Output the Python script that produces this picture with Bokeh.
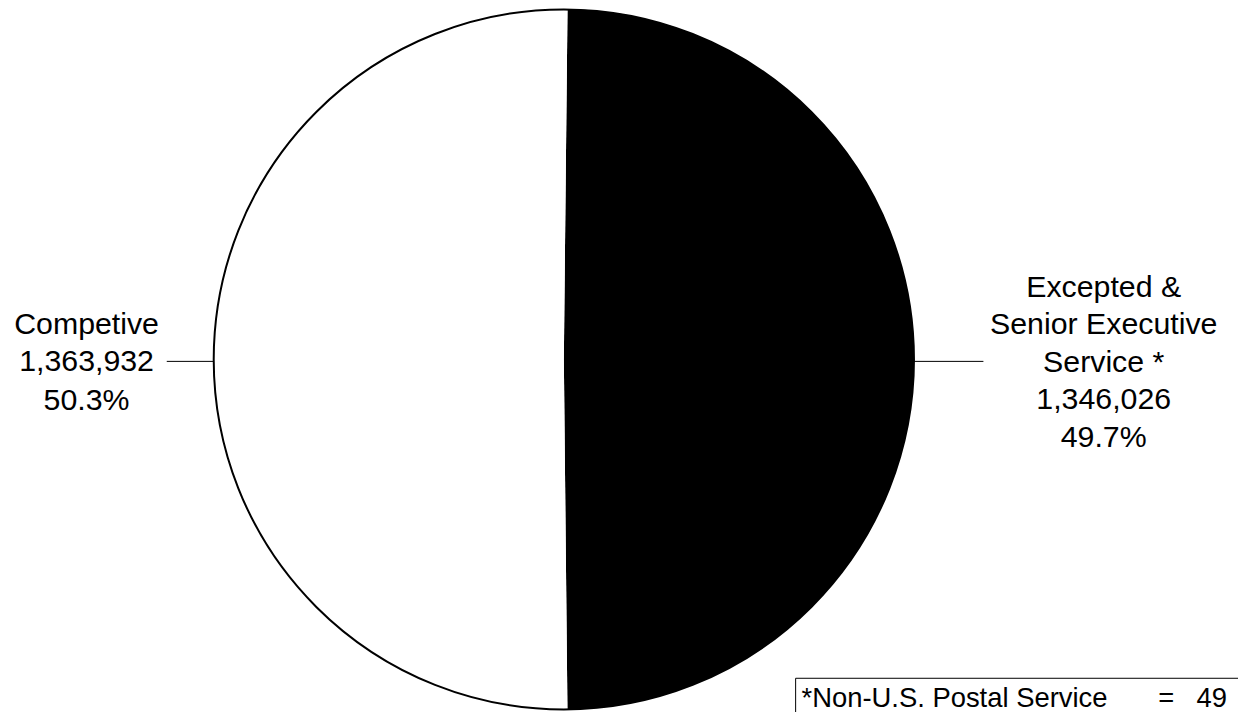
import math
from bokeh.plotting import figure
from bokeh.models import Range1d
from bokeh.core.properties import value
from bokeh.embed import file_html
from bokeh.resources import INLINE

# ---- data ----
categories = ["Excepted &\nSenior Executive\nService *", "Competive"]
counts = [1346026, 1363932]
percents = ["49.7%", "50.3%"]
colors = ["#000000", "#ffffff"]
footnote_label = "*Non-U.S. Postal Service"
footnote_eq = "="
footnote_value = "49"

W, H = 1238, 712
REF_W, REF_H = 1254, 728
s = H / REF_H  # uniform scale from reference pixels to figure pixels
FONT = value("Liberation Sans")
FS = f"{31 * s:.1f}px"
FS_NOTE = f"{28 * s:.1f}px"

p = figure(width=W, height=H, output_backend="svg", toolbar_location=None,
           x_range=Range1d(0, W / s), y_range=Range1d(0, REF_H),
           min_border=0)
p.axis.visible = False
p.grid.visible = False
p.outline_line_color = None
p.background_fill_color = "white"
p.border_fill_color = "white"

def sy(y):  # reference screen y -> data y
    return REF_H - y

cx, cy, r = 576, sy(367), 358
total = sum(counts)
start = 90 - 0.6
angles = []
a = start
for c in counts:
    span = c / total * 360
    angles.append((a, a - span))
    a -= span

for (a0, a1), col in zip(angles, colors):
    p.wedge(x=cx, y=cy, radius=r, start_angle=math.radians(a0), end_angle=math.radians(a1),
            direction="clock", fill_color=col, line_color=None)
p.circle(x=cx, y=cy, radius=r, fill_color=None, line_color="black", line_width=2)

# leaders and labels
line_h = 38.5
for (a0, a1), cat, cnt, pct in zip(angles, categories, counts, percents):
    mid = (a0 + a1) / 2
    side = 1 if math.cos(math.radians(mid)) > 0 else -1
    ly = cy - 2
    ex = cx + side * r
    lx = ex + side * (71 if side > 0 else 48)
    p.line(x=[ex, lx], y=[ly, ly], line_color="black", line_width=1)
    lines = cat.split("\n") + [f"{cnt:,}", pct]
    tx = 1128 if side > 0 else 88
    n = len(lines)
    ys = [ly + ((n - 1) / 2 - k) * line_h for k in range(n)]
    p.text(x=[tx] * n, y=ys, text=lines, text_align="center", text_baseline="middle",
           text_font=FONT, text_font_size=FS, text_color="black")

# footnote box
p.quad(left=813, right=1300, top=sy(693), bottom=sy(760), fill_color="white",
       line_color="black", line_width=1)
p.text(x=[819], y=[sy(713)], text=[footnote_label], text_align="left", text_baseline="middle",
       text_font=FONT, text_font_size=FS_NOTE, text_color="black")
p.text(x=[1192], y=[sy(713)], text=[footnote_eq], text_align="center", text_baseline="middle",
       text_font=FONT, text_font_size=FS_NOTE, text_color="black")
p.text(x=[1223], y=[sy(713)], text=[footnote_value], text_align="left", text_baseline="middle",
       text_font=FONT, text_font_size=FS_NOTE, text_color="black")

open("out.html", "w").write(file_html(p, INLINE))
